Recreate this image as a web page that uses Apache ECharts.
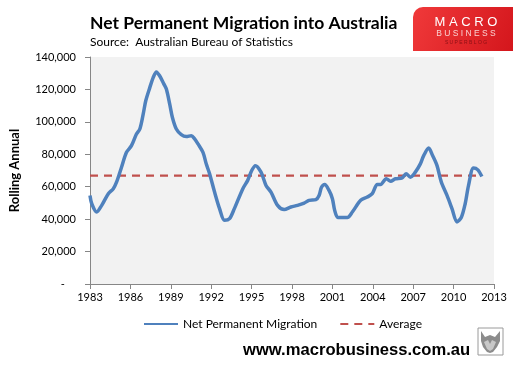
<!DOCTYPE html>
<html><head><meta charset="utf-8">
<script src="https://cdn.jsdelivr.net/npm/echarts@6/dist/echarts.min.js"></script>
<style>html,body{margin:0;padding:0;background:#fff}#c{width:518px;height:372px}</style>
</head><body><div id="c"></div>
<script>
const years = [1983.00,1983.13,1983.50,1983.87,1984.36,1984.73,1984.97,1985.34,1985.71,1986.08,1986.45,1986.70,1986.95,1987.14,1987.44,1987.69,1987.93,1988.18,1988.47,1988.67,1988.92,1989.12,1989.41,1989.78,1990.15,1990.52,1990.77,1991.02,1991.39,1991.63,1991.88,1992.25,1992.62,1992.99,1993.36,1993.72,1994.35,1994.71,1995.01,1995.28,1995.70,1996.07,1996.44,1996.93,1997.42,1997.92,1998.41,1998.90,1999.27,1999.77,2000.01,2000.19,2000.43,2000.75,2001.00,2001.17,2001.40,2001.74,2002.11,2002.48,2003.10,2003.59,2003.96,2004.33,2004.58,2005.00,2005.32,2005.68,2006.18,2006.47,2006.79,2007.16,2007.53,2007.78,2008.15,2008.44,2008.77,2009.09,2009.51,2009.88,2010.25,2010.57,2010.86,2011.11,2011.48,2011.80,2012.10];
const migration = [54600,49500,44400,48500,55700,58800,62800,72000,81200,85300,92500,95600,104800,113000,121100,127300,130800,128300,123600,120200,110900,102700,95600,92100,90900,91500,89500,86400,81200,74100,68000,56700,46500,39300,40300,46500,58800,63900,70000,73000,69000,60800,56700,48500,45900,47500,48500,49900,51600,52000,54600,59700,61400,57700,52600,45400,41000,41000,41000,44400,51600,53600,55700,61400,61400,64900,63400,64900,65500,68000,65900,69000,74100,79200,83900,79200,73000,62800,54600,46500,38300,41000,49500,60800,71600,70400,66300];
const averageValue = 66900;
const xTicks = [1983,1986,1989,1992,1995,1998,2001,2004,2007,2010,2013];
const yTicks = [0,20000,40000,60000,80000,100000,120000,140000];

const chart = echarts.init(document.getElementById('c'), null, {renderer:'canvas'});
const FONT = 'Lato';
const lineData = years.map((y,i)=>[y, migration[i]]);
const avgData = [[years[0], averageValue],[years[years.length-1], averageValue]];

chart.setOption({
  animation:false,
  backgroundColor:'#fff',
  grid:{left:88, top:57, width:406, height:227, show:true, backgroundColor:'#F2F2F2', borderWidth:0},
  title:{
    text:'Net Permanent Migration into Australia',
    subtext:'Source:  Australian Bureau of Statistics',
    left:85, top:9, itemGap:4,
    textStyle:{fontFamily:FONT, fontSize:17.5, fontWeight:'bold', color:'#000'},
    subtextStyle:{fontFamily:FONT, fontSize:12, color:'#000'}
  },
  legend:{
    left:138, top:313, itemWidth:34, itemHeight:10, itemGap:22,
    itemStyle:{opacity:0},
    textStyle:{fontFamily:FONT, fontSize:12, color:'#000'},
    data:['Net Permanent Migration','Average']
  },
  xAxis:{
    type:'value', min:xTicks[0], max:xTicks[xTicks.length-1], interval:3,
    axisLine:{show:true, lineStyle:{color:'#868686', width:1}},
    axisTick:{show:true, inside:false, length:5, lineStyle:{color:'#868686'}},
    splitLine:{show:false},
    axisLabel:{fontFamily:FONT, fontSize:11, color:'#000', margin:8, formatter:v=>String(v)}
  },
  yAxis:{
    type:'value', min:yTicks[0], max:yTicks[yTicks.length-1], interval:20000,
    name:'Rolling Annual', nameLocation:'middle', nameRotate:90, nameGap:69,
    nameTextStyle:{fontFamily:FONT, fontSize:13, fontWeight:'bold', color:'#000'},
    axisLine:{show:true, lineStyle:{color:'#868686', width:1}},
    axisTick:{show:true, inside:false, length:5, lineStyle:{color:'#868686'}},
    splitLine:{show:false},
    axisLabel:{fontFamily:FONT, fontSize:11, color:'#000', margin:14,
      formatter:v=> v===0 ? '-    ' : v.toLocaleString('en-US')}
  },
  series:[
    {name:'Net Permanent Migration', type:'line', data:lineData, symbol:'none', smooth:0.3,
     lineStyle:{color:'#4F81BD', width:3.5}, itemStyle:{color:'#4F81BD'}, z:3},
    {name:'Average', type:'line', data:avgData, symbol:'none',
     lineStyle:{color:'#C0504D', width:2.2, type:[8,6]}, itemStyle:{color:'#C0504D'}, z:2}
  ],
  graphic:[
    {type:'rect', shape:{x:413, y:7, width:100, height:44, r:[10,0,0,0]},
     style:{fill:new echarts.graphic.LinearGradient(0,0,1,1,[{offset:0,color:'#F0393A'},{offset:1,color:'#D4161C'}])}},
    {type:'text', style:{text:'M A C R O', x:466, y:22, align:'center', verticalAlign:'middle', fontFamily:'Liberation Sans', fontSize:13, fill:'#fff'}},
    {type:'text', style:{text:'B U S I N E S S', x:466, y:34, align:'center', verticalAlign:'middle', fontFamily:'Liberation Sans', fontSize:8.5, fill:'#FAD2D2'}},
    {type:'text', style:{text:'S U P E R B L O G', x:466, y:43, align:'center', verticalAlign:'middle', fontFamily:'Liberation Sans', fontSize:5, fill:'#8A1015'}},
    {type:'text', style:{text:'www.macrobusiness.com.au', x:243, y:350, verticalAlign:'middle', fontFamily:'Liberation Sans', fontSize:16.6, fontWeight:'bold', fill:'#000'}},
    {type:'rect', shape:{x:478, y:328, width:25, height:27}, style:{fill:'#fff', stroke:'#9a9a9a', lineWidth:1}},
    {type:'polygon', shape:{points:[[481,331],[485,337],[490,335],[495,337],[500,331],[500,341],[497,347],[493,352],[490,353],[487,352],[483,347],[481,341]]},
     style:{fill:'#8c8c8c'}},
    {type:'polygon', shape:{points:[[484,342],[488,340],[490,344],[492,340],[496,342],[493,349],[490,351],[487,349]]},
     style:{fill:'#c8c8c8'}}
  ]
});
</script></body></html>
